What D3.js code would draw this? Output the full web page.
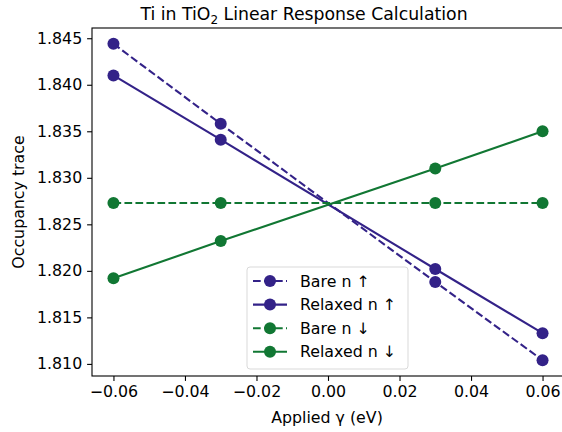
<!DOCTYPE html>
<html><head><meta charset="utf-8">
<script src="https://cdn.jsdelivr.net/npm/d3@7"></script>
<style>
html,body{margin:0;padding:0;background:#fff;}
text{font-family:"DejaVu Sans",sans-serif;fill:#000;}
</style></head>
<body><svg id="c" width="562" height="432"></svg>
<script>
const gammas = [-0.06, -0.03, 0.03, 0.06];
const bareUp = [1.8444, 1.8358, 1.8188, 1.8104];
const relaxedUp = [1.8410, 1.8341, 1.8202, 1.8133];
const bareDown = [1.8273, 1.8273, 1.8273, 1.8273];
const relaxedDown = [1.8192, 1.8232, 1.8310, 1.8350];
const xTicks = [-0.06, -0.04, -0.02, 0.00, 0.02, 0.04, 0.06];
const yTicks = [1.810, 1.815, 1.820, 1.825, 1.830, 1.835, 1.840, 1.845];
const seriesNames = ["Bare n \u2191", "Relaxed n \u2191", "Bare n \u2193", "Relaxed n \u2193"];
const purple = "#332288", green = "#117733";
const series = [
  {name: seriesNames[0], values: bareUp, color: purple, dashed: true},
  {name: seriesNames[1], values: relaxedUp, color: purple, dashed: false},
  {name: seriesNames[2], values: bareDown, color: green, dashed: true},
  {name: seriesNames[3], values: relaxedDown, color: green, dashed: false}
];

const L = 92, R = 564, T = 28, B = 376;
const svg = d3.select("#c");
const fs = 15.8;

function pad(ext){ const d = ext[1]-ext[0]; return [ext[0]-0.05*d, ext[1]+0.05*d]; }
const allY = [].concat(bareUp, relaxedUp, bareDown, relaxedDown);
const x = d3.scaleLinear().domain(pad(d3.extent(gammas))).range([L, R]);
const y = d3.scaleLinear().domain(pad(d3.extent(allY))).range([B, T]);

const xAxis = d3.axisBottom(x).tickValues(xTicks).tickSizeOuter(0).tickSize(4.9).tickPadding(4.9)
  .tickFormat(d => d3.format(".2f")(d).replace("-", "\u2212"));
const gx = svg.append("g").attr("transform", `translate(0,${B})`).call(xAxis);
const yAxis = d3.axisLeft(y).tickValues(yTicks).tickSizeOuter(0).tickSize(4.9).tickPadding(4.9)
  .tickFormat(d3.format(".3f"));
const gy = svg.append("g").attr("transform", `translate(${L},0)`).call(yAxis);
[gx, gy].forEach(g => {
  g.selectAll("text").attr("font-size", fs).attr("font-family", "DejaVu Sans").attr("fill", "#000");
  g.selectAll("line").attr("stroke", "#000").attr("stroke-width", 1.1);
  g.select(".domain").remove();
});
svg.append("rect").attr("x", L).attr("y", T).attr("width", R-L).attr("height", B-T)
  .attr("fill", "none").attr("stroke", "#000").attr("stroke-width", 1.1);

const line = d3.line().x((d,i) => x(gammas[i])).y(d => y(d));
series.forEach(s => {
  svg.append("path").datum(s.values).attr("d", line).attr("fill", "none")
    .attr("stroke", s.color).attr("stroke-width", 2.1)
    .attr("stroke-dasharray", s.dashed ? "7.7,3.3" : null);
  svg.selectAll(null).data(s.values).enter().append("circle")
    .attr("cx", (d,i) => x(gammas[i])).attr("cy", d => y(d)).attr("r", 6)
    .attr("fill", s.color);
});

const title = svg.append("text").attr("x", 304).attr("y", 20).attr("text-anchor", "middle")
  .attr("font-size", 17.3);
title.append("tspan").text("Ti in TiO");
title.append("tspan").text("2").attr("font-size", 12).attr("dy", 4);
title.append("tspan").text(" Linear Response Calculation").attr("dy", -4);

svg.append("text").attr("x", 327).attr("y", 423).attr("text-anchor", "middle")
  .attr("font-size", fs).text("Applied \u03b3 (eV)");
svg.append("text").attr("transform", `translate(24,${(T+B)/2}) rotate(-90)`)
  .attr("text-anchor", "middle").attr("font-size", fs).text("Occupancy trace");

const lg = svg.append("g");
lg.append("rect").attr("x", 247).attr("y", 267).attr("width", 161).attr("height", 102)
  .attr("rx", 3).attr("fill", "#fff").attr("fill-opacity", 0.8)
  .attr("stroke", "#d9d9d9").attr("stroke-width", 1);
series.forEach((s, i) => {
  const yy = 281 + i*23.6;
  lg.append("line").attr("x1", 253).attr("x2", 287).attr("y1", yy).attr("y2", yy)
    .attr("stroke", s.color).attr("stroke-width", 2.1)
    .attr("stroke-dasharray", s.dashed ? "7.7,3.3" : null);
  lg.append("circle").attr("cx", 270).attr("cy", yy).attr("r", 6).attr("fill", s.color);
  lg.append("text").attr("x", 300).attr("y", yy + 5.5).attr("font-size", fs).text(s.name);
});
</script></body></html>
